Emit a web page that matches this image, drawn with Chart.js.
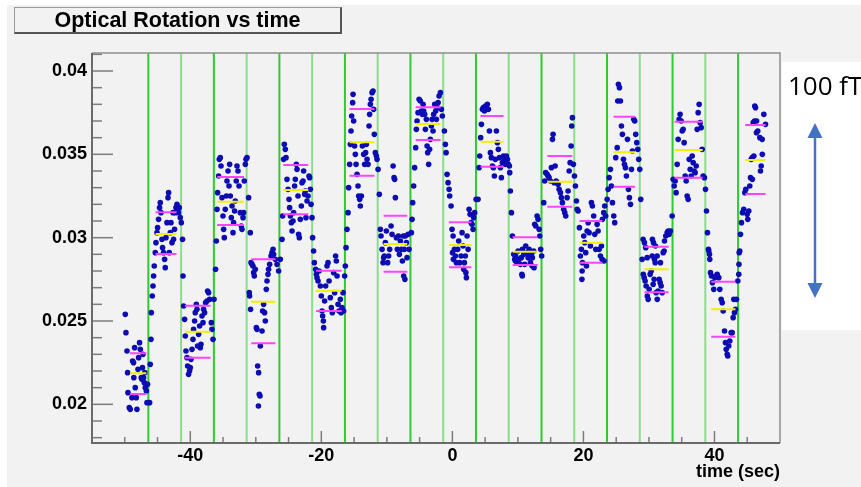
<!DOCTYPE html>
<html>
<head>
<meta charset="utf-8">
<title>Optical Rotation vs time</title>
<script src="https://cdn.jsdelivr.net/npm/chart.js@4.4.1/dist/chart.umd.min.js"></script>
<style>
  html, body { margin: 0; padding: 0; background: #fff; }
  #wrap { position: relative; width: 861px; height: 487px; overflow: hidden; }
  #bg { position: absolute; left: 7px; top: 5px; width: 854px; height: 482px; background: #f2f2f2; }
  #note { position: absolute; left: 782px; top: 62px; width: 79px; height: 268px; background: #fff; }
  #title {
    position: absolute; left: 14px; top: 7px; width: 325px; height: 24px;
    border-top: 1px solid #9a9a9a; border-left: 1px solid #9a9a9a;
    border-right: 2px solid #555; border-bottom: 2px solid #555;
    font: bold 21.5px "Liberation Sans", Arial, sans-serif; line-height: 25px;
    text-align: center; color: #000;
  }
  #scale { position: absolute; left: 788px; top: 72px; font: 26px "Open Sans", sans-serif; line-height: 1; white-space: nowrap; color: #000; }
  canvas, svg { position: absolute; left: 0; top: 0; }
</style>
</head>
<body>
<div id="wrap">
  <div id="bg"></div>
  <div id="note"></div>
  <canvas id="chart" width="861" height="487"></canvas>
  <div id="title">Optical Rotation vs time</div>
  <div id="scale">100 fT</div>
  <svg width="861" height="487">
    <line x1="815" y1="135" x2="815" y2="286" stroke="#4472c4" stroke-width="2.5"/>
    <polygon points="815,123 807.5,138 822.5,138" fill="#4472c4"/>
    <polygon points="815,298 807.5,283 822.5,283" fill="#4472c4"/>
  </svg>
</div>
<script>
// time (sec), optical rotation, segment by segment
const samples = [
  // -50 .. -46.4
  [-49.92,0.0254],[-49.82,0.0243],[-49.66,0.0232],[-49.57,0.0219],[-49.51,0.0207],[-49.31,0.0198],[-49.16,0.0197],
  [-48.90,0.0204],[-48.80,0.0226],[-48.66,0.0225],[-48.62,0.0216],[-48.50,0.0234],[-48.40,0.0210],[-48.24,0.0204],
  [-48.14,0.0197],[-47.98,0.0221],[-47.89,0.0228],[-47.74,0.0237],[-47.63,0.0233],[-47.48,0.0216],[-47.37,0.0215],
  [-47.30,0.0222],[-47.22,0.0230],[-47.13,0.0216],[-47.02,0.0213],[-46.95,0.0219],[-46.87,0.0210],[-46.70,0.0208],
  [-46.61,0.0201],[-46.52,0.0212],
  // -46.4 .. -41.4
  [-46.21,0.0201],[-46.11,0.0224],[-46.00,0.0239],[-45.95,0.0255],[-45.80,0.0265],[-45.69,0.0271],[-45.60,0.0277],
  [-45.50,0.0283],[-45.34,0.0291],[-45.24,0.0297],[-45.08,0.0303],[-44.99,0.0306],[-44.84,0.0311],[-44.69,0.0318],
  [-44.58,0.0321],[-44.47,0.0315],[-44.32,0.0299],[-44.23,0.0294],[-44.08,0.0291],[-43.92,0.0287],[-43.82,0.0282],
  [-43.71,0.0300],[-43.56,0.0309],[-43.40,0.0324],[-43.31,0.0327],[-43.21,0.0291],[-43.05,0.0303],[-42.95,0.0309],
  [-42.79,0.0297],[-42.64,0.0315],[-42.55,0.0299],[-42.40,0.0305],[-42.29,0.0315],[-42.18,0.0318],[-42.03,0.0320],
  [-41.94,0.0317],[-41.79,0.0315],[-41.68,0.0318],[-41.53,0.0312],[-41.37,0.0309],[-41.18,0.0299],[-41.11,0.0277],
  // -41.4 .. -36.4
  [-41.02,0.0259],[-40.87,0.0251],[-40.76,0.0241],[-40.66,0.0232],[-40.50,0.0228],[-40.41,0.0223],[-40.26,0.0218],
  [-40.11,0.0220],[-40.00,0.0222],[-39.89,0.0227],[-39.74,0.0233],[-39.59,0.0239],[-39.50,0.0245],[-39.34,0.0250],
  [-39.24,0.0255],[-39.08,0.0260],[-38.98,0.0257],[-38.89,0.0235],[-38.73,0.0242],[-38.58,0.0247],[-38.47,0.0234],
  [-38.37,0.0236],[-38.21,0.0253],[-38.06,0.0249],[-37.97,0.0257],[-37.82,0.0255],[-37.66,0.0261],[-37.45,0.0262],
  [-37.36,0.0268],[-37.21,0.0267],[-37.05,0.0263],[-36.79,0.0249],[-36.69,0.0245],[-36.53,0.0239],[-36.38,0.0263],
  [-36.14,0.0281],
  // -36.4 .. -31.4
  [-36.03,0.0298],[-35.92,0.0317],[-35.83,0.0327],[-35.68,0.0337],[-35.57,0.0347],[-35.42,0.0348],[-35.31,0.0343],
  [-35.16,0.0324],[-35.01,0.0313],[-34.91,0.0305],[-34.81,0.0300],[-34.66,0.0317],[-34.50,0.0325],[-34.40,0.0334],
  [-34.24,0.0340],[-34.09,0.0331],[-34.00,0.0344],[-33.89,0.0325],[-33.74,0.0312],[-33.63,0.0319],[-33.48,0.0303],
  [-33.39,0.0309],[-33.24,0.0316],[-33.13,0.0322],[-32.98,0.0334],[-32.87,0.0343],[-32.72,0.0340],[-32.56,0.0331],
  [-32.37,0.0315],[-32.21,0.0307],[-32.11,0.0305],[-31.95,0.0312],[-31.86,0.0315],[-31.76,0.0334],[-31.60,0.0344],
  [-31.50,0.0347],[-31.34,0.0348],[-31.10,0.0324],
  // -31.4 .. -26.4
  [-31.00,0.0267],[-30.95,0.0265],[-30.84,0.0303],[-30.80,0.0257],[-30.73,0.0285],[-30.58,0.0284],[-30.43,0.0283],
  [-30.33,0.0279],[-30.23,0.0277],[-30.08,0.0281],[-29.92,0.0246],[-29.82,0.0245],[-29.72,0.0223],[-29.60,0.0199],
  [-29.57,0.0219],[-29.47,0.0206],[-29.36,0.0205],[-29.31,0.0235],[-29.05,0.0244],[-28.96,0.0256],[-28.81,0.0260],
  [-28.66,0.0255],[-28.55,0.0250],[-28.40,0.0269],[-28.29,0.0274],[-28.14,0.0278],[-28.05,0.0281],[-27.89,0.0284],
  [-27.68,0.0289],[-27.53,0.0291],[-27.37,0.0293],[-27.28,0.0290],[-27.02,0.0287],[-26.76,0.0284],[-26.52,0.0280],
  [-26.26,0.0287],
  // -26.4 .. -21.4
  [-26.00,0.0299],[-25.91,0.0313],[-25.76,0.0347],[-25.65,0.0356],[-25.50,0.0353],[-25.39,0.0348],[-25.24,0.0335],
  [-25.08,0.0329],[-24.93,0.0323],[-24.84,0.0318],[-24.73,0.0313],[-24.58,0.0309],[-24.47,0.0304],[-24.32,0.0310],
  [-24.23,0.0315],[-24.08,0.0331],[-23.97,0.0335],[-23.82,0.0344],[-23.71,0.0341],[-23.56,0.0325],[-23.47,0.0302],
  [-23.36,0.0300],[-23.21,0.0311],[-23.05,0.0319],[-22.95,0.0333],[-22.79,0.0334],[-22.70,0.0340],[-22.55,0.0326],
  [-22.44,0.0328],[-22.34,0.0312],[-22.18,0.0322],[-22.03,0.0325],[-21.88,0.0337],[-21.79,0.0336],[-21.68,0.0329],
  [-21.57,0.0320],[-21.42,0.0312],[-21.33,0.0300],[-21.18,0.0292],
  // -21.4 .. -16.4
  [-21.07,0.0285],[-20.87,0.0281],[-20.76,0.0278],[-20.66,0.0276],[-20.50,0.0274],[-20.35,0.0280],[-20.15,0.0271],
  [-20.00,0.0265],[-19.89,0.0256],[-19.80,0.0253],[-19.69,0.0250],[-19.65,0.0246],[-19.50,0.0262],[-19.34,0.0271],
  [-19.13,0.0283],[-18.98,0.0285],[-18.82,0.0274],[-18.63,0.0264],[-18.47,0.0258],[-18.32,0.0255],[-18.12,0.0279],
  [-17.97,0.0267],[-17.82,0.0289],[-17.71,0.0286],[-17.60,0.0277],[-17.45,0.0260],[-17.30,0.0256],[-17.10,0.0263],
  [-16.99,0.0255],[-16.84,0.0258],[-16.69,0.0267],[-16.60,0.0256],[-16.44,0.0277],[-16.34,0.0283],
  // -16.4 .. -11.4
  [-16.23,0.0294],[-16.08,0.0305],[-15.92,0.0315],[-15.83,0.0330],[-15.68,0.0344],[-15.57,0.0356],[-15.47,0.0364],
  [-15.37,0.0373],[-15.22,0.0381],[-15.16,0.0386],[-15.07,0.0370],[-14.92,0.0355],[-14.81,0.0350],[-14.70,0.0344],
  [-14.55,0.0338],[-14.40,0.0331],[-14.30,0.0325],[-14.15,0.0323],[-14.05,0.0319],[-13.89,0.0325],[-13.74,0.0355],
  [-13.54,0.0350],[-13.39,0.0344],[-13.24,0.0351],[-13.13,0.0356],[-13.02,0.0347],[-12.87,0.0344],[-12.72,0.0367],
  [-12.63,0.0374],[-12.52,0.0380],[-12.41,0.0383],[-12.26,0.0387],[-12.11,0.0388],[-12.02,0.0377],[-11.91,0.0362],
  [-11.76,0.0351],[-11.60,0.0349],[-11.50,0.0347],[-11.34,0.0341],
  // -11.4 .. -6.4
  [-11.15,0.0326],[-10.99,0.0305],[-10.89,0.0301],[-10.73,0.0293],[-10.58,0.0285],[-10.49,0.0288],[-10.38,0.0289],
  [-10.23,0.0297],[-10.08,0.0304],[-9.88,0.0285],[-9.73,0.0289],[-9.57,0.0293],[-9.36,0.0307],[-9.21,0.0302],
  [-9.05,0.0343],[-8.90,0.0336],[-8.81,0.0335],[-8.70,0.0324],[-8.55,0.0300],[-8.40,0.0293],[-8.24,0.0301],
  [-8.09,0.0290],[-7.94,0.0298],[-7.79,0.0293],[-7.63,0.0286],[-7.48,0.0301],[-7.43,0.0277],[-7.33,0.0293],
  [-7.25,0.0275],[-7.18,0.0301],[-7.02,0.0297],[-6.92,0.0288],[-6.76,0.0302],[-6.61,0.0293],
  // -6.4 .. -1.4
  [-6.26,0.0303],[-6.15,0.0311],[-6.06,0.0321],[-5.91,0.0331],[-5.76,0.0342],[-5.60,0.0354],[-5.50,0.0365],
  [-5.39,0.0370],[-5.24,0.0375],[-5.08,0.0383],[-4.89,0.0382],[-4.73,0.0376],[-4.58,0.0374],[-4.47,0.0380],
  [-4.38,0.0376],[-4.23,0.0374],[-4.12,0.0365],[-3.97,0.0371],[-3.86,0.0355],[-3.77,0.0351],[-3.62,0.0344],
  [-3.47,0.0353],[-3.36,0.0359],[-3.21,0.0367],[-3.10,0.0371],[-2.95,0.0364],[-2.86,0.0374],[-2.70,0.0380],
  [-2.55,0.0376],[-2.44,0.0371],[-2.34,0.0378],[-2.18,0.0381],[-2.03,0.0385],[-1.83,0.0387],[-1.68,0.0377],
  [-1.53,0.0373],
  // -1.4 .. 3.6
  [-1.22,0.0364],[-1.07,0.0356],[-0.96,0.0351],[-0.81,0.0338],[-0.66,0.0333],[-0.50,0.0329],[-0.41,0.0325],
  [-0.20,0.0319],[-0.05,0.0305],[0.02,0.0291],[0.11,0.0301],[0.15,0.0287],[0.31,0.0293],[0.46,0.0289],
  [0.61,0.0285],[0.81,0.0293],[0.96,0.0298],[1.11,0.0285],[1.33,0.0289],[1.48,0.0303],[1.63,0.0295],
  [1.73,0.0281],[1.83,0.0285],[1.98,0.0289],[2.06,0.0279],[2.14,0.0276],[2.24,0.0301],[2.40,0.0293],
  [2.55,0.0317],[2.70,0.0314],[2.85,0.0309],[3.01,0.0308],[3.16,0.0305],[3.25,0.0312],[3.40,0.0315],
  [3.62,0.0323],
  // 3.6 .. 8.6
  [3.92,0.0323],[4.08,0.0342],[4.17,0.0349],[4.32,0.0360],[4.43,0.0368],[4.58,0.0377],[4.73,0.0378],
  [4.89,0.0376],[5.04,0.0379],[5.19,0.0377],[5.34,0.0380],[5.50,0.0377],[5.65,0.0364],[5.80,0.0351],
  [5.95,0.0348],[6.11,0.0343],[6.26,0.0342],[6.41,0.0337],[6.56,0.0347],[6.72,0.0364],[6.87,0.0357],
  [7.02,0.0353],[7.18,0.0348],[7.33,0.0342],[7.48,0.0336],[7.63,0.0345],[7.79,0.0349],[7.94,0.0347],
  [8.09,0.0344],[8.24,0.0349],[8.40,0.0347],[8.55,0.0344],[8.70,0.0343],
  // 8.6 .. 13.6
  [8.75,0.0339],[8.85,0.0328],[9.01,0.0315],[9.16,0.0301],[9.36,0.0290],[9.51,0.0287],[9.62,0.0286],
  [9.66,0.0289],[9.88,0.0285],[10.03,0.0292],[10.18,0.0287],[10.38,0.0284],[10.53,0.0288],[10.61,0.0278],
  [10.67,0.0277],[10.69,0.0293],[10.89,0.0290],[11.04,0.0284],[11.19,0.0295],[11.40,0.0291],[11.56,0.0288],
  [11.71,0.0293],[11.91,0.0285],[12.06,0.0290],[12.17,0.0283],[12.21,0.0288],[12.41,0.0292],[12.46,0.0282],
  [12.56,0.0308],[12.72,0.0307],[12.93,0.0313],[13.08,0.0311],[13.24,0.0305],[13.33,0.0301],[13.48,0.0293],
  [13.63,0.0289],
  // 13.6 .. 18.6
  [13.94,0.0321],[14.09,0.0334],[14.24,0.0339],[14.46,0.0338],[14.61,0.0337],[14.76,0.0336],[14.96,0.0334],
  [15.11,0.0342],[15.27,0.0359],[15.37,0.0362],[15.53,0.0333],[15.68,0.0343],[15.83,0.0334],[15.98,0.0333],
  [16.14,0.0332],[16.29,0.0329],[16.49,0.0327],[16.64,0.0324],[16.79,0.0321],[16.99,0.0317],[17.15,0.0315],
  [17.30,0.0313],[17.51,0.0324],[17.66,0.0328],[17.82,0.0340],[17.97,0.0345],[18.12,0.0355],[18.21,0.0367],
  [18.32,0.0372],[18.47,0.0344],[18.63,0.0337],[18.78,0.0331],
  // 18.6 .. 23.6
  [18.93,0.0322],[19.04,0.0317],[19.19,0.0316],[19.39,0.0306],[19.54,0.0289],[19.69,0.0293],[19.77,0.0275],
  [19.80,0.0280],[19.85,0.0285],[20.05,0.0301],[20.20,0.0297],[20.35,0.0291],[20.46,0.0283],[20.56,0.0304],
  [20.72,0.0309],[20.87,0.0303],[21.07,0.0295],[21.22,0.0321],[21.37,0.0319],[21.57,0.0313],[21.73,0.0302],
  [21.88,0.0293],[22.09,0.0308],[22.24,0.0304],[22.40,0.0293],[22.60,0.0289],[22.75,0.0295],[22.85,0.0287],
  [22.90,0.0311],[23.10,0.0315],[23.15,0.0286],[23.25,0.0319],[23.40,0.0313],
  // 23.6 .. 28.6
  [23.62,0.0323],[23.77,0.0329],[23.92,0.0336],[24.12,0.0341],[24.27,0.0331],[24.43,0.0321],[24.63,0.0313],
  [24.78,0.0309],[24.93,0.0348],[25.15,0.0354],[25.24,0.0382],[25.34,0.0392],[25.50,0.0390],[25.65,0.0382],
  [25.80,0.0367],[25.95,0.0362],[26.11,0.0347],[26.26,0.0344],[26.41,0.0342],[26.56,0.0337],[26.72,0.0359],
  [26.87,0.0329],[27.02,0.0324],[27.18,0.0320],[27.33,0.0341],[27.48,0.0352],[27.68,0.0371],[27.83,0.0370],
  [27.98,0.0362],[28.14,0.0357],[28.29,0.0353],[28.44,0.0347],[28.60,0.0341],[28.75,0.0323],
  // 28.6 .. 33.6
  [28.96,0.0287],[29.11,0.0299],[29.13,0.0278],[29.27,0.0276],[29.31,0.0297],[29.42,0.0274],[29.51,0.0294],
  [29.57,0.0271],[29.73,0.0288],[29.75,0.0265],[29.88,0.0263],[30.03,0.0269],[30.18,0.0278],[30.34,0.0280],
  [30.49,0.0289],[30.53,0.0299],[30.64,0.0272],[30.69,0.0297],[30.79,0.0275],[30.84,0.0287],[30.95,0.0285],
  [30.99,0.0295],[31.10,0.0267],[31.25,0.0289],[31.27,0.0263],[31.40,0.0268],[31.56,0.0275],[31.71,0.0273],
  [31.76,0.0285],[31.86,0.0271],[32.02,0.0267],[32.17,0.0291],[32.32,0.0292],[32.37,0.0298],[32.56,0.0301],
  [32.78,0.0303],[32.93,0.0304],[33.08,0.0302],[33.28,0.0304],
  // 33.6 .. 38.6
  [33.54,0.0313],[33.69,0.0335],[33.85,0.0331],[34.00,0.0334],[34.15,0.0327],[34.31,0.0344],[34.46,0.0359],
  [34.61,0.0371],[34.76,0.0374],[34.92,0.0370],[35.07,0.0364],[35.22,0.0365],[35.37,0.0357],[35.53,0.0337],
  [35.68,0.0334],[35.83,0.0325],[35.98,0.0323],[36.14,0.0347],[36.29,0.0341],[36.44,0.0337],[36.60,0.0349],
  [36.75,0.0345],[36.90,0.0340],[37.05,0.0339],[37.21,0.0343],[37.36,0.0365],[37.51,0.0375],[37.66,0.0380],
  [37.82,0.0369],[37.97,0.0366],[38.12,0.0353],[38.27,0.0337],[38.47,0.0336],[38.63,0.0329],
  // 38.6 .. 43.6
  [38.78,0.0316],[38.93,0.0303],[39.08,0.0293],[39.13,0.0292],[39.24,0.0290],[39.28,0.0287],[39.39,0.0279],
  [39.54,0.0277],[39.69,0.0273],[39.89,0.0269],[40.05,0.0276],[40.20,0.0277],[40.41,0.0278],[40.66,0.0276],
  [40.81,0.0269],[41.02,0.0263],[41.18,0.0261],[41.33,0.0256],[41.53,0.0244],[41.68,0.0237],[41.79,0.0233],
  [41.94,0.0230],[42.03,0.0229],[42.18,0.0235],[42.34,0.0238],[42.55,0.0243],[42.70,0.0243],[42.85,0.0252],
  [42.95,0.0263],[43.05,0.0255],[43.21,0.0257],[43.36,0.0263],[43.56,0.0274],[43.71,0.0278],[43.74,0.0284],
  [43.77,0.0291],
  // 43.6 .. end
  [43.86,0.0292],[43.97,0.0302],[44.12,0.0309],[44.27,0.0315],[44.47,0.0317],[44.63,0.0327],[44.78,0.0329],
  [44.99,0.0314],[45.08,0.0311],[45.24,0.0316],[45.39,0.0331],[45.50,0.0336],[45.60,0.0347],[45.76,0.0348],
  [45.78,0.0335],[45.91,0.0369],[46.01,0.0349],[46.11,0.0370],[46.15,0.0379],[46.26,0.0378],[46.41,0.0363],
  [46.43,0.0370],[46.61,0.0364],[46.92,0.0360],[47.02,0.0340],[47.13,0.0343],[47.28,0.0359],[47.30,0.0350],
  [47.53,0.0374],[47.79,0.0368]
];

// field-switch times (green lines)
const switchTimes = [-46.4, -41.4, -36.4, -31.4, -26.4, -21.4, -16.4, -11.4, -6.4, -1.4,
                     3.6, 8.6, 13.6, 18.6, 23.6, 28.6, 33.6, 38.6, 43.6];

// averaging window of each segment and its mean +/- spread
const segStart = [-49.2, -45.3, -40.8, -35.9, -30.7, -25.8, -20.8, -15.7, -10.5, -5.6,
                  -0.5, 4.3, 9.2, 14.5, 19.4, 24.6, 29.3, 33.9, 39.5, 44.7];
const segEnd   = [-46.7, -42.1, -36.9, -31.8, -27.0, -22.0, -16.9, -11.9, -6.9, -1.8,
                  2.9, 7.8, 13.0, 18.3, 22.9, 27.9, 33.0, 38.2, 43.2, 47.8];
const segUpper = [0.02306, 0.03152, 0.02592, 0.03364, 0.02870, 0.03436, 0.02802, 0.03772, 0.03132, 0.03782,
                  0.03092, 0.03730, 0.03002, 0.03490, 0.03100, 0.03726, 0.02946, 0.03696, 0.02736, 0.03676];
const segMean  = [0.02186, 0.03022, 0.02436, 0.03216, 0.02616, 0.03286, 0.02682, 0.03572, 0.02962, 0.03682,
                  0.02956, 0.03576, 0.02916, 0.03336, 0.02970, 0.03512, 0.02810, 0.03526, 0.02570, 0.03466];
const segLower = [0.02062, 0.02902, 0.02280, 0.03076, 0.02366, 0.03140, 0.02560, 0.03372, 0.02796, 0.03586,
                  0.02822, 0.03426, 0.02836, 0.03186, 0.02850, 0.03306, 0.02672, 0.03360, 0.02406, 0.03262];

const xTickValues = [-40, -20, 0, 20, 40];
const xTickLabels = ['-40', '-20', '0', '20', '40'];
const yTickValues = [0.02, 0.025, 0.03, 0.035, 0.04];
const yTickLabels = ['0.02', '0.025', '0.03', '0.035', '0.04'];

const X_MIN = -55, X_MAX = 50;
const Y_MIN = 0.01768, Y_MAX = 0.04108;

function windowLines(values) {
  const out = [];
  values.forEach((v, i) => {
    out.push({x: segStart[i], y: v}, {x: segEnd[i], y: v}, {x: segEnd[i], y: null});
  });
  return out;
}

function switchLines(parity) {
  const out = [];
  switchTimes.forEach((t, i) => {
    if (i % 2 !== parity) return;
    out.push({x: t, y: Y_MIN}, {x: t, y: Y_MAX}, {x: t, y: null});
  });
  return out;
}

const tickFont = { family: '"Liberation Sans", Arial, sans-serif', size: 18, weight: 'bold' };

// ROOT style frame with ticks pointing into the pad
const padFrame = {
  id: 'padFrame',
  afterDatasetsDraw(chart) {
    const { ctx, chartArea: a, scales: { x, y } } = chart;
    ctx.save();
    ctx.strokeStyle = '#7c7c7c';
    ctx.lineWidth = 1.5;
    for (let k = 18; k <= 41; k++) {
      const py = y.getPixelForValue(k / 1000);
      const len = (k % 5 === 0) ? 21 : 10;
      ctx.beginPath();
      ctx.moveTo(a.left, py);
      ctx.lineTo(a.left + len, py);
      ctx.stroke();
    }
    for (let t = -50; t < X_MAX; t += 5) {
      const px = x.getPixelForValue(t);
      const len = (t % 20 === 0) ? 12 : 6;
      ctx.beginPath();
      ctx.moveTo(px, a.bottom);
      ctx.lineTo(px, a.bottom - len);
      ctx.stroke();
    }
    // top and right edges
    ctx.strokeStyle = '#8e8e8e';
    ctx.beginPath();
    ctx.moveTo(a.left, a.top);
    ctx.lineTo(a.right, a.top);
    ctx.lineTo(a.right, a.bottom);
    ctx.stroke();
    // axes
    ctx.strokeStyle = '#6a6a6a';
    ctx.lineWidth = 2;
    ctx.beginPath();
    ctx.moveTo(a.left, a.top);
    ctx.lineTo(a.left, a.bottom);
    ctx.lineTo(a.right, a.bottom);
    ctx.stroke();
    ctx.restore();
  }
};

new Chart(document.getElementById('chart'), {
  type: 'scatter',
  data: {
    datasets: [
      {
        label: 'upper',
        data: windowLines(segUpper),
        showLine: true, borderColor: '#ff44ff', borderWidth: 2, pointRadius: 0, order: 0
      },
      {
        label: 'mean',
        data: windowLines(segMean),
        showLine: true, borderColor: '#f0f000', borderWidth: 2, pointRadius: 0, order: 0
      },
      {
        label: 'lower',
        data: windowLines(segLower),
        showLine: true, borderColor: '#ff44ff', borderWidth: 2, pointRadius: 0, order: 0
      },
      {
        label: 'rotation',
        data: samples.map(([t, v]) => ({ x: t, y: v })),
        backgroundColor: '#0c0cb4', borderWidth: 0, pointRadius: 2.8, order: 1
      },
      {
        label: 'switch',
        data: switchLines(0),
        showLine: true, borderColor: '#2ecc2e', borderWidth: 2, pointRadius: 0, order: 2
      },
      {
        label: 'switch2',
        data: switchLines(1),
        showLine: true, borderColor: '#8ade8a', borderWidth: 2, pointRadius: 0, order: 2
      }
    ]
  },
  options: {
    responsive: false,
    animation: false,
    layout: { padding: { top: 53, right: 81, left: 0, bottom: 0 } },
    plugins: { legend: { display: false }, tooltip: { enabled: false } },
    scales: {
      x: {
        type: 'linear', min: X_MIN, max: X_MAX,
        grid: { display: false, drawTicks: false },
        border: { display: false },
        ticks: {
          font: tickFont, color: '#000', padding: 2, maxRotation: 0, autoSkip: false,
          callback: (v, i) => xTickLabels[i]
        },
        title: {
          display: true, text: 'time (sec)', align: 'end', color: '#000',
          font: tickFont, padding: { top: 0, bottom: 4 }
        },
        afterBuildTicks: s => { s.ticks = xTickValues.map(v => ({ value: v })); },
        afterFit: s => { s.height = 44; }
      },
      y: {
        type: 'linear', min: Y_MIN, max: Y_MAX,
        grid: { display: false, drawTicks: false },
        border: { display: false },
        ticks: {
          font: tickFont, color: '#000', padding: 5, autoSkip: false,
          callback: (v, i) => yTickLabels[i]
        },
        afterBuildTicks: s => { s.ticks = yTickValues.map(v => ({ value: v })); },
        afterFit: s => { s.width = 92; }
      }
    }
  },
  plugins: [padFrame]
});
</script>
</body>
</html>
